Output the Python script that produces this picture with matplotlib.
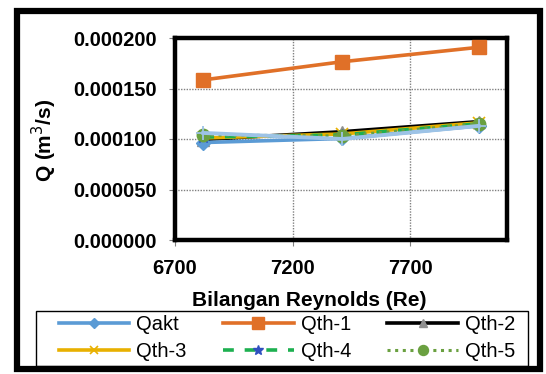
import matplotlib
matplotlib.use("Agg")
import matplotlib.pyplot as plt
from matplotlib.patches import Rectangle

re_vals = [6820, 7410, 7990]
qakt = [0.0000965, 0.0001005, 0.0001130]
qth1 = [0.0001585, 0.0001765, 0.0001908]
qth2 = [0.0000995, 0.0001072, 0.0001172]
qth3 = [0.0001010, 0.0001050, 0.0001160]
qth4 = [0.0001020, 0.0001040, 0.0001150]
qth5 = [0.0001040, 0.0001030, 0.0001150]
qth6 = [0.0001060, 0.0001000, 0.0001130]

xticks = [6700, 7200, 7700]
yticks = [0.0, 0.00005, 0.0001, 0.00015, 0.0002]

plt.rcParams['font.family'] = ['Liberation Sans', 'DejaVu Sans']

W, H = 546, 374
fig = plt.figure(figsize=(W / 100, H / 100), dpi=100)
ax = fig.add_axes([175 / W, 1 - 240 / H, (507 - 175) / W, (240 - 38) / H])

ax.plot(re_vals, qth1, color='#E07028', lw=2.6, marker='s', ms=10, label='Qth-1', zorder=3)
ax.plot(re_vals, qth2, color='black', lw=2.6, marker='^', ms=8, mfc='#909090', mec='#909090', label='Qth-2', zorder=3)
ax.plot(re_vals, qth3, color='#E8B000', lw=2.6, marker='x', ms=8, mew=1.2, label='Qth-3', zorder=4)
ax.plot(re_vals, qth4, color='#1DB050', lw=2.6, ls=(0, (3, 3)), marker='*', ms=9, mfc='#3050C0', mec='#3050C0', label='Qth-4', zorder=5)
ax.plot(re_vals, qth5, color='#6AA040', lw=2.2, ls=(0, (1, 1.5)), marker='o', ms=9, label='Qth-5', zorder=5)
ax.plot(re_vals, qakt, color='#5B9BD5', lw=2.6, marker='D', ms=7, label='Qakt', zorder=4)
ax.plot(re_vals, qth6, color='#9DC3E6', lw=2.8, marker='+', ms=10, mew=1.3, zorder=6)

ax.set_xlim(6700, 8110)
ax.set_ylim(0, 0.0002)
ax.set_xticks(xticks)
ax.set_yticks(yticks)
ax.set_yticklabels([f"{v:.6f}" for v in yticks])
ax.grid(True, color='#808080', ls=(0, (1, 1)), lw=1.0)
ax.set_axisbelow(True)
for s in ax.spines.values():
    s.set_linewidth(3.2)
    s.set_color('black')
ax.tick_params(axis='both', labelsize=14.5, width=0.8, color='#808080', length=4)
ax.tick_params(axis='y', pad=9)
ax.tick_params(axis='x', pad=10)
for lab in ax.get_xticklabels() + ax.get_yticklabels():
    lab.set_fontweight('bold')

fig.text(309 / W, 1 - 300 / H, 'Bilangan Reynolds (Re)', fontsize=15, fontweight='bold',
         ha='center', va='center')
fig.text(44 / W, 1 - 140 / H, 'Q (m$^3$/s)', fontsize=15, fontweight='bold',
         ha='center', va='center', rotation=90)

h, l = ax.get_legend_handles_labels()
hd = dict(zip(l, h))
arr = ['Qakt', 'Qth-3', 'Qth-1', 'Qth-4', 'Qth-2', 'Qth-5']
leg = fig.legend([hd[k] for k in arr], arr, loc='center', bbox_to_anchor=(287 / W, 1 - 338 / H),
                 ncol=3, fontsize=14.5, frameon=False, markerscale=0.8,
                 handlelength=3.5, columnspacing=1.8, borderpad=0, labelspacing=0.38,
                 handletextpad=0.35, borderaxespad=0)

fig.patches.append(Rectangle((36 / W, 1 - 366 / H), (528 - 36) / W, (366 - 311) / H,
                             transform=fig.transFigure, fill=False, edgecolor='black', lw=1.0))
fig.patches.append(Rectangle((16.5 / W, 1 - 369 / H), (540 - 16.5) / W, (369 - 10.5) / H,
                             transform=fig.transFigure, fill=False, edgecolor='black', lw=4.5))

fig.savefig('out.png', dpi=100)
